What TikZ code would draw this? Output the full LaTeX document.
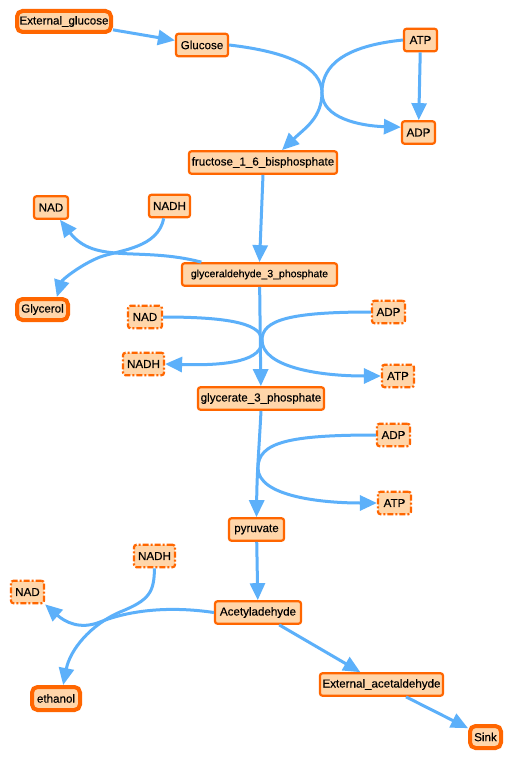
\documentclass[tikz,border=0pt]{standalone}
\usepackage{fontspec}
\setmainfont{Liberation Sans}
\newfontfamily\labelfont[FakeBold=0.35]{Liberation Sans}
\usetikzlibrary{arrows.meta}
\definecolor{flux}{RGB}{92,176,250}
\definecolor{metfill}{RGB}{255,214,170}
\definecolor{metline}{RGB}{255,102,0}
\begin{document}
\begin{tikzpicture}[x=1pt,y=-1pt,
  met/.style={draw=metline, fill=metfill, line width=2.2pt, rounded corners=2.5pt,
    inner sep=0pt, minimum height=22.5pt, font=\labelfont\fontsize{11.6}{13}\selectfont},
  boundary/.style={met, line width=4pt, rounded corners=5.5pt, minimum height=21pt},
  cof/.style={met, dash pattern=on 6pt off 2pt on 2pt off 2pt},
  flow/.style={draw=flux, line width=3pt, -{Triangle[length=17pt,width=15pt]}}]
\useasboundingbox[fill=white] (0,0) rectangle (513,760);

% metabolites
\node[boundary, minimum width=94pt] (extglc) at (64,21.5) {External\_glucose};
\node[met, minimum width=52pt] (glc) at (202,45) {Glucose};
\node[met, minimum width=33pt] (atp1) at (420.5,40) {ATP};
\node[met, minimum width=33pt] (adp1) at (418.5,132.5) {ADP};
\node[met, minimum width=148pt] (fbp) at (263,162.5) {fructose\_1\_6\_bisphosphate};
\node[met, minimum width=34pt] (nad1) at (51,207.5) {NAD};
\node[met, minimum width=41pt] (nadh1) at (169.5,206) {NADH};
\node[met, minimum width=155pt, font=\labelfont\fontsize{10.5}{12}\selectfont] (gap) at (259.5,274.5) {glyceraldehyde\_3\_phosphate};
\node[boundary, minimum width=51pt] (glyc) at (42.5,309.5) {Glycerol};
\node[cof, minimum width=34pt] (nad2) at (145,317) {NAD};
\node[cof, minimum width=41pt] (nadh2) at (143.5,364) {NADH};
\node[cof, minimum width=33pt] (adp2) at (388.5,312) {ADP};
\node[cof, minimum width=32pt] (atp2) at (398,376) {ATP};
\node[met, minimum width=126pt] (g3p) at (261,398.5) {glycerate\_3\_phosphate};
\node[cof, minimum width=33pt] (adp3) at (393.5,435) {ADP};
\node[cof, minimum width=33pt] (atp3) at (394.5,503) {ATP};
\node[met, minimum width=55pt] (pyr) at (256.5,529.5) {pyruvate};
\node[cof, minimum width=41pt] (nadh3) at (154.5,556) {NADH};
\node[cof, minimum width=33pt] (nad3) at (27.5,592) {NAD};
\node[met, minimum width=86pt] (acet) at (258,612.5) {Acetyladehyde};
\node[met, minimum width=123pt] (extacet) at (381.5,684.5) {External\_acetaldehyde};
\node[boundary, minimum width=48pt, minimum height=23pt] (eth) at (56,698.5) {ethanol};
\node[boundary, minimum width=31pt, minimum height=22pt] (sink) at (485.5,737) {Sink};

% fluxes
\draw[flow] (extglc) -- (glc);
\draw[flow] (glc.east) .. controls (290,52) and (322,68) .. (322,93)
  .. controls (322,118) and (360,126) .. (adp1.163);
\draw[flow] (atp1.west) .. controls (345,46) and (322,65) .. (322,92)
  .. controls (322,118) and (305,128) .. (fbp.33);
\draw[flow] (atp1) -- (adp1);
\draw[flow] (fbp.south) -- (gap.north);

\draw[flow] (gap.168) .. controls (140,246) and (95,265) .. (nad1.-54);
\draw[flow] (nadh1.-115) .. controls (158,248) and (120,250) .. (100,257)
  .. controls (80,265) and (62,280) .. (glyc.41);

\draw[flow] (gap) -- (g3p);
\draw[flow] (nad2.east) .. controls (235,317) and (262,325) .. (262,341)
  .. controls (262,360) and (230,366) .. (nadh2.east);
\draw[flow] (adp2.west) .. controls (290,312) and (262,320) .. (262,340)
  .. controls (262,366) and (315,376) .. (atp2.west);

\draw[flow] (g3p.south) .. controls (259,450) and (257,470) .. (pyr.north);
\draw[flow] (adp3.west) .. controls (290,435) and (258,442) .. (258,468)
  .. controls (258,496) and (320,503) .. (atp3.west);

\draw[flow] (pyr) -- (acet);
\draw[flow] (acet.west) .. controls (170,606) and (130,610) .. (100,622)
  .. controls (80,630) and (65,622) .. (nad3.south east);
\draw[flow] (nadh3.south) .. controls (154,592) and (150,600) .. (120,612)
  .. controls (90,625) and (70,650) .. (eth.62);

\draw[flow] (acet) -- (extacet);
\draw[flow] (extacet) -- (sink);
\end{tikzpicture}
\end{document}
